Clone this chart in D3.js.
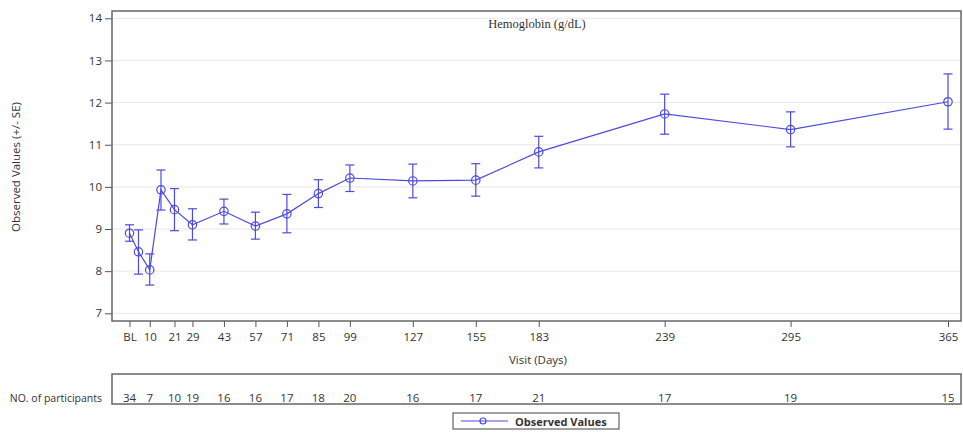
<!DOCTYPE html>
<html>
<head>
<meta charset="utf-8">
<script src="https://d3js.org/d3.v7.min.js"></script>
<style>
  body { margin: 0; background: #fff; }
  text { font-family: "Open Sans", "Liberation Sans", sans-serif; fill: #333; }
</style>
</head>
<body>
<script>
// visit days of each observation (BL = day 1)
const days = [1, 5, 10, 15, 21, 29, 43, 57, 71, 85, 99, 127, 155, 183, 239, 295, 365];
const means = [8.90, 8.46, 8.03, 9.93, 9.46, 9.10, 9.42, 9.07, 9.36, 9.84, 10.21, 10.14, 10.16, 10.83, 11.73, 11.36, 12.02];
const upper = [9.10, 8.98, 8.41, 10.40, 9.96, 9.48, 9.71, 9.40, 9.82, 10.17, 10.52, 10.54, 10.55, 11.20, 12.20, 11.78, 12.68];
const lower = [8.71, 7.93, 7.67, 9.45, 8.96, 8.74, 9.12, 8.76, 8.91, 9.51, 9.89, 9.74, 9.78, 10.45, 11.25, 10.95, 11.37];

// labelled ticks and the participant counts under them
const tickDays = [1, 10, 21, 29, 43, 57, 71, 85, 99, 127, 155, 183, 239, 295, 365];
const tickLabels = ["BL", "10", "21", "29", "43", "57", "71", "85", "99", "127", "155", "183", "239", "295", "365"];
const participants = [34, 7, 10, 19, 16, 16, 17, 18, 20, 16, 17, 21, 17, 19, 15];
const yTicks = [7, 8, 9, 10, 11, 12, 13, 14];

const W = 963, H = 432;
const frame = { left: 112, right: 961, top: 11, bottom: 321 };
const blue = "#4b4be0";

const svg = d3.select("body").append("svg")
    .attr("width", W).attr("height", H);

const x = d3.scaleLinear().domain([1, 365]).range([129.5, 948]);
const y = d3.scaleLinear().domain([7, 14]).range([313.3, 18.3]);

// grid lines
svg.append("g").selectAll("line").data(yTicks).join("line")
    .attr("x1", frame.left).attr("x2", frame.right)
    .attr("y1", d => y(d)).attr("y2", d => y(d))
    .attr("stroke", "#e8e8e8").attr("stroke-width", 1);

// y axis
const yAxis = svg.append("g")
    .attr("transform", `translate(${frame.left},0)`)
    .call(d3.axisLeft(y).tickValues(yTicks).tickSize(7).tickPadding(3).tickFormat(d3.format("d")));
yAxis.select(".domain").remove();
yAxis.selectAll("line").attr("stroke", "#555");
yAxis.selectAll("text").attr("font-size", "11.5px").style("font-family", "'Open Sans', sans-serif").attr("fill", "#333");

// x axis
const xAxis = svg.append("g")
    .attr("transform", `translate(0,${frame.bottom})`)
    .call(d3.axisBottom(x).tickValues(tickDays).tickSize(6).tickPadding(6)
        .tickFormat((d, i) => tickLabels[i]));
xAxis.select(".domain").remove();
xAxis.selectAll("line").attr("stroke", "#555");
xAxis.selectAll("text").attr("font-size", "11.5px").style("font-family", "'Open Sans', sans-serif").attr("fill", "#333");

// frame
svg.append("rect")
    .attr("x", frame.left).attr("y", frame.top)
    .attr("width", frame.right - frame.left).attr("height", frame.bottom - frame.top)
    .attr("fill", "none").attr("stroke", "#666").attr("stroke-width", 1.5);

// title
svg.append("text")
    .attr("x", 537).attr("y", 28)
    .attr("text-anchor", "middle")
    .style("font-family", "'Liberation Serif', serif")
    .attr("font-size", "12.5px")
    .text("Hemoglobin (g/dL)");

// axis titles
svg.append("text")
    .attr("transform", "translate(20,167) rotate(-90)")
    .attr("text-anchor", "middle")
    .attr("font-size", "11.5px")
    .text("Observed Values (+/- SE)");

svg.append("text")
    .attr("x", 538).attr("y", 364)
    .attr("text-anchor", "middle")
    .attr("font-size", "11.5px")
    .text("Visit (Days)");

// error bars
const data = days.map((d, i) => ({ day: d, m: means[i], hi: upper[i], lo: lower[i] }));
const eb = svg.append("g").attr("stroke", blue).attr("stroke-width", 1.2);
eb.selectAll(".v").data(data).join("line")
    .attr("x1", d => x(d.day)).attr("x2", d => x(d.day))
    .attr("y1", d => y(d.hi)).attr("y2", d => y(d.lo));
eb.selectAll(".t").data(data).join("line")
    .attr("x1", d => x(d.day) - 4.5).attr("x2", d => x(d.day) + 4.5)
    .attr("y1", d => y(d.hi)).attr("y2", d => y(d.hi));
eb.selectAll(".b").data(data).join("line")
    .attr("x1", d => x(d.day) - 4.5).attr("x2", d => x(d.day) + 4.5)
    .attr("y1", d => y(d.lo)).attr("y2", d => y(d.lo));

// mean line
svg.append("path")
    .datum(data)
    .attr("fill", "none").attr("stroke", blue).attr("stroke-width", 1.2)
    .attr("d", d3.line().x(d => x(d.day)).y(d => y(d.m)));

svg.append("g").selectAll("circle").data(data).join("circle")
    .attr("cx", d => x(d.day)).attr("cy", d => y(d.m)).attr("r", 4.2)
    .attr("fill", "none").attr("stroke", blue).attr("stroke-width", 1.2);

// participants table
svg.append("rect")
    .attr("x", frame.left).attr("y", 374)
    .attr("width", frame.right - frame.left).attr("height", 30)
    .attr("fill", "none").attr("stroke", "#666").attr("stroke-width", 1.5);

svg.append("text")
    .attr("x", 102).attr("y", 402)
    .attr("text-anchor", "end")
    .attr("font-size", "10.5px")
    .text("NO. of participants");

svg.append("g").selectAll("text").data(participants).join("text")
    .attr("x", (d, i) => x(tickDays[i])).attr("y", 402)
    .attr("text-anchor", "middle")
    .attr("font-size", "11.5px")
    .text(d => d);

// legend
const lg = svg.append("g");
lg.append("rect")
    .attr("x", 453).attr("y", 413).attr("width", 166).attr("height", 16)
    .attr("fill", "#fff").attr("stroke", "#444").attr("stroke-width", 1);
lg.append("line")
    .attr("x1", 461).attr("x2", 508).attr("y1", 421).attr("y2", 421)
    .attr("stroke", blue).attr("stroke-width", 1.2);
lg.append("circle")
    .attr("cx", 483).attr("cy", 421).attr("r", 3)
    .attr("fill", "none").attr("stroke", blue).attr("stroke-width", 1.2);
lg.append("text")
    .attr("x", 515).attr("y", 425.5)
    .attr("font-size", "11px").attr("font-weight", "bold")
    .attr("fill", "#222")
    .text("Observed Values");
</script>
</body>
</html>
